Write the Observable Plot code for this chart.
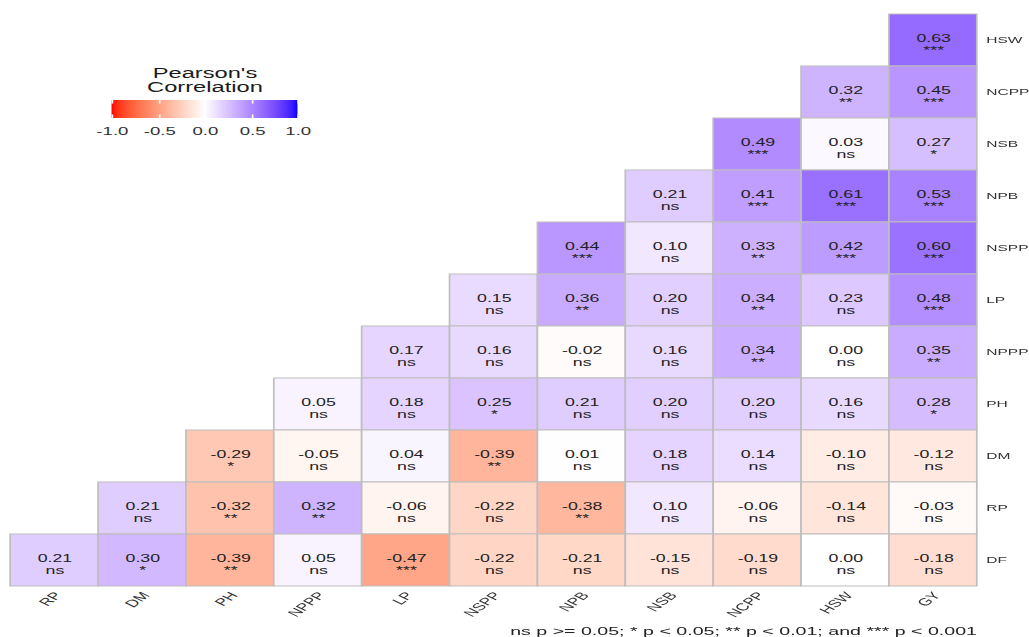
<!DOCTYPE html>
<html><head><meta charset="utf-8">
<script src="https://cdn.jsdelivr.net/npm/d3@7"></script>
<script src="https://cdn.jsdelivr.net/npm/@observablehq/plot@0.6"></script>
<style>
html,body{margin:0;padding:0;background:#fff;overflow:hidden;width:1029px;height:637px}
#wrap{position:relative;width:608.9px;height:637px;transform:scaleX(1.69);transform-origin:0 0;font-family:"Liberation Sans",Arial,sans-serif}
#legendTitle{position:absolute;left:61.3px;top:65.7px;width:120px;text-align:center;font-size:14px;line-height:14px;color:#1a1a1a}
#legend{position:absolute;left:50.7px;top:100px}
#legend .tick line{stroke:#fff;stroke-width:1;stroke-dasharray:3.6 10.8 3.6 100}
#caption{position:absolute;top:622px;right:30.8px;font-size:11.6px;line-height:17px;color:#222;white-space:nowrap}
</style>
</head><body>
<div id="wrap">
  <div id="chart"></div>
  <div id="legendTitle">Pearson's<br>Correlation</div>
  <div id="legend"></div>
  <div id="caption"></div>
</div>
<script>
// Variables on the x axis (left to right) and y axis (top to bottom)
const xVars = ["RP","DM","PH","NPPP","LP","NSPP","NPB","NSB","NCPP","HSW","GY"];
const yVars = ["HSW","NCPP","NSB","NPB","NSPP","LP","NPPP","PH","DM","RP","DF"];
// Correlation values per row (right-aligned to the last column, GY)
const corrValues = [
  [0.63],
  [0.32,0.45],
  [0.49,0.03,0.27],
  [0.21,0.41,0.61,0.53],
  [0.44,0.10,0.33,0.42,0.60],
  [0.15,0.36,0.20,0.34,0.23,0.48],
  [0.17,0.16,-0.02,0.16,0.34,0.00,0.35],
  [0.05,0.18,0.25,0.21,0.20,0.20,0.16,0.28],
  [-0.29,-0.05,0.04,-0.39,0.01,0.18,0.14,-0.10,-0.12],
  [0.21,-0.32,0.32,-0.06,-0.22,-0.38,0.10,-0.06,-0.14,-0.03],
  [0.21,0.30,-0.39,0.05,-0.47,-0.22,-0.21,-0.15,-0.19,0.00,-0.18]
];
// Significance codes, same layout
const sigCodes = [
  ["***"],
  ["**","***"],
  ["***","ns","*"],
  ["ns","***","***","***"],
  ["***","ns","**","***","***"],
  ["ns","**","ns","**","ns","***"],
  ["ns","ns","ns","ns","**","ns","**"],
  ["ns","ns","*","ns","ns","ns","ns","*"],
  ["*","ns","ns","**","ns","ns","ns","ns","ns"],
  ["ns","**","**","ns","ns","**","ns","ns","ns","ns"],
  ["ns","*","**","ns","***","ns","ns","ns","ns","ns","ns"]
];
const legendTicks = [-1, -0.5, 0, 0.5, 1];
const legendTitle = "Pearson's Correlation";
const captionText = "ns p >= 0.05; * p < 0.05; ** p < 0.01; and *** p < 0.001";

const data = [];
yVars.forEach((row, i) => {
  const vals = corrValues[i], sigs = sigCodes[i];
  const offset = xVars.length - vals.length;
  vals.forEach((r, j) => data.push({row, col: xVars[offset + j], r, sig: sigs[j]}));
});

const colorScale = {type: "linear", domain: [-1, 0, 1], range: ["red", "white", "blue"], interpolate: "lab"};
const W0 = 1029 / 1.69;
const font = "'Liberation Sans', Arial, sans-serif";

const chart = Plot.plot({
  width: W0, height: 620,
  marginLeft: 5.9, marginRight: 30.8, marginTop: 14, marginBottom: 34,
  style: {fontFamily: font, fontSize: "10px", overflow: "visible", background: "white"},
  x: {domain: xVars, padding: 0, axis: null},
  y: {domain: yVars, padding: 0, axis: null},
  color: colorScale,
  marks: [
    Plot.cell(data, {x: "col", y: "row", fill: "r", stroke: "#bebebe", strokeWidth: 1}),
    Plot.text(data, {x: "col", y: "row", text: d => d.r.toFixed(2) + "\n" + d.sig,
      fontSize: 10.5, lineHeight: 1.2, dy: 3.5, fill: "#222"}),
    Plot.axisX({anchor: "bottom", tickRotate: -51, tickSize: 0, tickPadding: 7, dx: 2, fontSize: 10.4, fill: "#333", label: null}),
    Plot.axisY({anchor: "right", tickSize: 0, tickPadding: 5, fontSize: 9.2, fill: "#333", label: null})
  ]
});
document.getElementById("chart").appendChild(chart);

const legend = Plot.legend({
  color: colorScale,
  label: null,
  width: 140, height: 40,
  marginTop: 0, marginBottom: 22, marginLeft: 15, marginRight: 15,
  tickSize: 6,
  ticks: legendTicks,
  tickFormat: d => d.toFixed(1),
  style: {fontFamily: font, fontSize: "11px", color: "#333", background: "transparent", overflow: "visible"}
});
document.getElementById("legend").appendChild(legend);
document.getElementById("legendTitle").innerHTML = legendTitle.replace(" ", "<br>");
document.getElementById("caption").textContent = captionText;
</script>
</body></html>
